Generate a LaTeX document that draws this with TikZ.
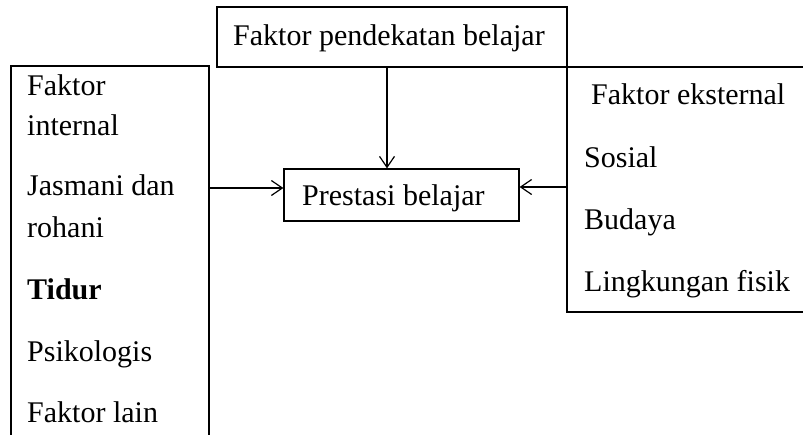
\documentclass[tikz,border=0pt]{standalone}
\usepackage{fontspec}
\setmainfont{Liberation Serif}
\usetikzlibrary{arrows.meta}
\begin{document}
\begin{tikzpicture}[x=1pt,y=-1pt,
  box/.style={draw, line width=1.2pt, inner sep=0pt, rectangle},
  lbl/.style={anchor=base west, inner sep=0pt, font=\fontsize{30}{36}\selectfont},
  conn/.style={draw, line width=1.2pt, -{Straight Barb[length=11pt,width=15pt,line width=1.2pt]}}]
\useasboundingbox (0,0) rectangle (803,434);
\clip (0,0) rectangle (803,434);
% boxes
\node[box, minimum width=350pt, minimum height=60pt] (top) at (392,37) {};
\node[box, minimum width=198pt, minimum height=394pt] (lbox) at (110,263) {};
\node[box, minimum width=263pt, minimum height=245pt] (rbox) at (698.5,189.5) {};
\node[box, minimum width=235pt, minimum height=52pt] (cbox) at (401.5,195) {};
% texts
\node[lbl] (t0) at (233,45) {Faktor pendekatan belajar};
\node[lbl] (c0) at (302,205) {Prestasi belajar};
\node[lbl] (l1) at (27,95) {Faktor};
\node[lbl] (l2) at (27,135) {internal};
\node[lbl] (l3) at (27,195) {Jasmani dan};
\node[lbl] (l4) at (27,237) {rohani};
\node[lbl] (l5) at (27,299) {\bfseries Tidur};
\node[lbl] (l6) at (27,361) {Psikologis};
\node[lbl] (l7) at (27,422) {Faktor lain};
\node[lbl] (r1) at (591,104) {Faktor eksternal};
\node[lbl] (r2) at (584,167) {Sosial};
\node[lbl] (r3) at (584,229) {Budaya};
\node[lbl] (r4) at (584,291) {Lingkungan fisik};
% connectors
\draw[conn] (top.south -| 387,0) -- (cbox.north -| 387,0);
\draw[conn] (lbox.east |- 0,188) -- (cbox.west |- 0,188);
\draw[conn] (rbox.west |- 0,187) -- (cbox.east |- 0,187);
\end{tikzpicture}
\end{document}
